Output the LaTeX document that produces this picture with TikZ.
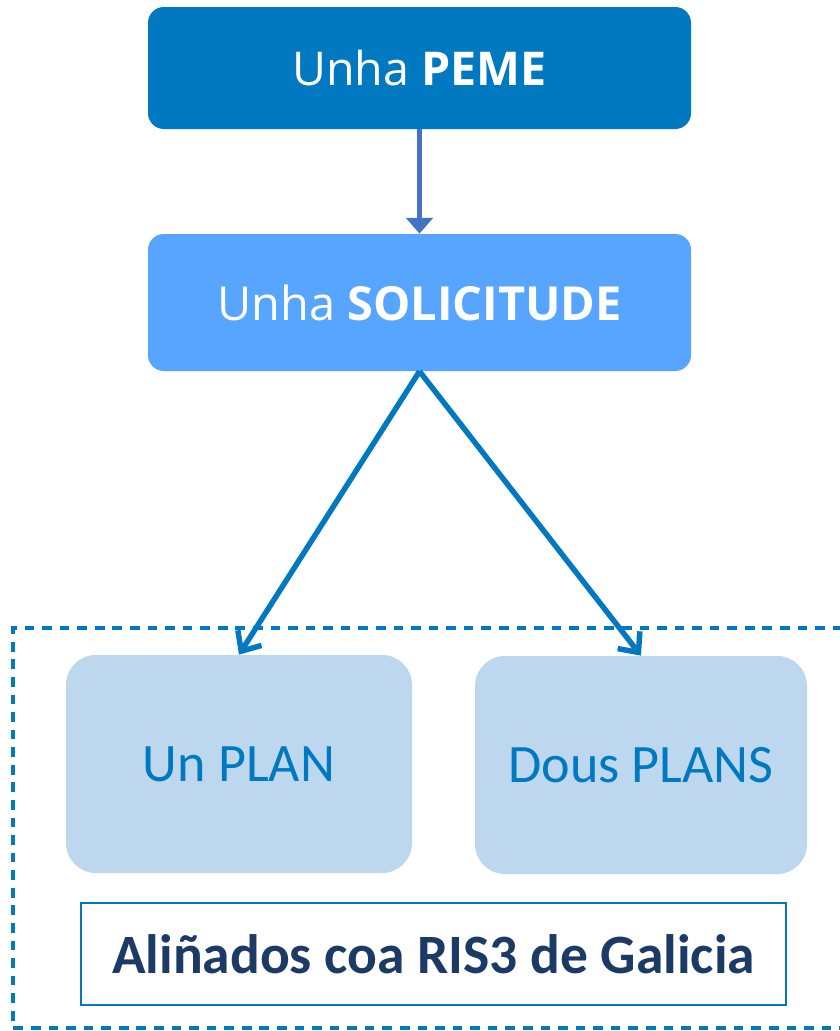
\documentclass[tikz,border=0pt]{standalone}
\usepackage{fontspec}
\setmainfont{Open Sans}
\newfontfamily\plansfont{Carlito}
\usetikzlibrary{arrows.meta}
\definecolor{pemeblue}{HTML}{0079C1}
\definecolor{solblue}{HTML}{58A5FF}
\definecolor{planfill}{HTML}{BDD7EE}
\definecolor{arrowblue}{HTML}{4472C4}
\definecolor{navy}{HTML}{1B3A66}
\tikzset{
  topbox/.style = {rounded corners=9pt, minimum width=543*0.02cm, text=white, inner sep=0pt},
  planbox/.style = {fill=planfill, rounded corners=17pt, text=pemeblue, inner sep=0pt, font=\plansfont\fontsize{30.8}{36}\selectfont},
  link/.style = {draw=pemeblue, line width=3.1pt, -{Straight Barb[length=9pt,width=16pt,line width=3.1pt]}}
}
\begin{document}
\begin{tikzpicture}[x=0.02cm, y=-0.02cm]
        \useasboundingbox (0,0) rectangle (839,1031);

        % outer dashed frame, right side runs off the page
        \draw [pemeblue, line width=2.5pt, dash pattern=on 5.5pt off 4.5pt] (860,628) -- (13,628) -- (13,1028) -- (860,1028);

        \node (peme) at (419.5,68) [topbox, fill=pemeblue, minimum height=122*0.02cm,
              font=\fontsize{26.5}{32}\selectfont] {Unha \textbf{PEME}};
        \node (sol) at (419.5,302.5) [topbox, fill=solblue, minimum height=137*0.02cm,
              font=\fontsize{26.7}{32}\selectfont] {Unha \textbf{SOLICITUDE}};

        \node (plana) at (239,764) [planbox, minimum width=346*0.02cm, minimum height=218*0.02cm] {Un PLAN};
        \node (planb) at (641,765) [planbox, minimum width=332*0.02cm, minimum height=218*0.02cm] {Dous PLANS};

        \node (ris) at (433.5,954) [draw=pemeblue, line width=1.6pt, minimum width=705*0.02cm, minimum height=102*0.02cm,
              text=navy, font=\plansfont\bfseries\fontsize{31.6}{38}\selectfont] {Aliñados coa RIS3 de Galicia};

        \draw [arrowblue, line width=3pt, -{Triangle[length=9pt,width=15pt]}] (peme.south) -- (sol.north);
        \draw [link] (sol.south) -- (plana.north);
        \draw [link] (sol.south) -- (planb.north);
    \end{tikzpicture}
\end{document}
